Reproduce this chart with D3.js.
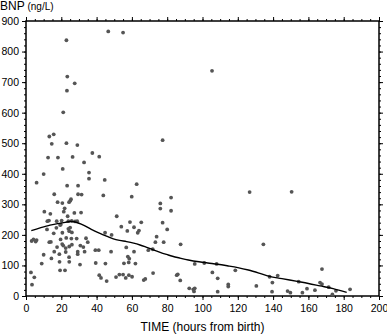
<!DOCTYPE html>
<meta charset="utf-8">
<style>
  body { margin: 0; background: #fff; }
  svg text { font-family: "Liberation Sans", Arial, sans-serif; fill: #000; }
  .axis path, .axis line { stroke: #000; }
</style>
<script src="https://d3js.org/d3.v7.min.js"></script>
<div id="chart"></div>
<script>
  // points: hours from birth, BNP ng/L
  var timeHours = [46.6,55,22.9,105.4,23.4,27.6,23.2,21.1,15.7,13.2,77.4,14.6,22.9,29.1,37.6,41.5,12.5,18.1,26.4,32.9,20.8,35.7,10,35.7,44.6,6,62.7,23.3,29.5,16,29.5,31.5,43.8,59.9,82.2,25.5,25.1,17.9,20.6,24.4,76.1,76.1,21.9,10.4,13.8,21.4,82.2,31.2,27.4,23.6,51.4,
    12.1,13,17.4,20.2,24,25.9,27.8,29,65.3,58.9,77.4,19.7,54,19.3,17.2,11.9,24,25,24.5,26,64,61.2,57.4,44.8,48.5,63.3,20.6,15.7,80,74,19.6,22.8,25.7,28.7,34,3.2,6,4.2,5.5,73.3,78,87.6,35,13.2,14.1,21.1,20.5,24.5,26,30.8,32.5,17.6,22.5,39.3,41.2,48.2,56.8,61.2,69.3,71.8,29.3,29.3,33.2,16,18.9,22.5,10,19,14.4,24.4,24.5,19.3,22.1,8.9,30.6,39.5,45,57.7,58.5,58.2,55.5,62,2.8,4.7,3.4,41.5,42.5,45.7,51,52.9,55,56.5,58.3,60.1,66.7,67.6,72,85.4,86,87.4,92.5,94.8,95.2,95.6,
    101,108,105.6,108.6,95.6,108.6,114.6,114.6,118.6,126.7,150.5,134.5,130.5,138,142.6,139.6,139.4,148.2,149.8,154.5,156.6,159.2,163.7,166.6,167.7,167.7,171.5,173.6,175.6,183.6];
  var bnpValues = [866,862,837,737,718,696,672,601,529,522,510,498,500,494,468,456,453,453,455,437,416,404,399,384,380,371,366,361,361,333,333,332,329,325,322,317,312,307,304,307,303,286,287,276,269,276,279,273,272,261,261,
    245,247,245,247,245,246,244,245,241,242,240,234,227,232,223,218,220,224,212,208,214,225,213,207,200,207,207,205,218,194,185,190,188,188,189,180,183,185,178,176,176,169,176,176,177,165,170,162,168,165,160,160,157,150,150,145,159,145,150,153,145,137,145,145,137,144,135,112,123,127,112,84,84,106,103,108,106,129,122,110,107,106,77,61,37,68,59,49,62,70,70,59,68,63,52,56,75,68,71,51,25,22,15,105,
    108,105,77,58,25,14,38,31,84,340,341,169,33,63,67,44,14,16,11,47,11,24,19,44,39,88,29,5,17,22];

  // smoothed trend line
  var trendHours = [3,8,13.6,18,22.1,25,27.2,30,32.5,37,41.9,46,49.5,53,57,61,64.6,68,72.1,76,79.7,83,87.3,92,98,103,108.5,114,120,126,132,138,145,154.5,160,166.6,174,181.7];
  var trendBnp = [214,223,232,237,241,244,243,238,232,218,205,195,187,182,178,173,167,160,151,143,136,130,124,118,112,108,104,99,93,85,75,64,57,47,41,33,24,12];

  var xTicks = [0,20,40,60,80,100,120,140,160,180,200];
  var yTicks = [0,100,200,300,400,500,600,700,800,900];

  var width = 387, height = 336;
  var plotL = 26, plotR = 379, plotT = 21, plotB = 296;

  var svg = d3.select("#chart").append("svg")
      .attr("width", width)
      .attr("height", height);

  var x = d3.scaleLinear().domain([0, 200]).range([plotL, plotR]);
  var y = d3.scaleLinear().domain([0, 900]).range([plotB, plotT]);

  var minorX = d3.range(0, 201, 5);
  var minorY = d3.range(0, 901, 20);

  function styleAxis(g) {
    g.attr("class", "axis");
    g.select(".domain").remove();
    g.selectAll("text").style("font-size", "10.5px");
  }

  // minor ticks on all four sides
  svg.append("g").attr("transform", "translate(0," + plotB + ")")
    .call(d3.axisBottom(x).tickValues(minorX).tickSize(2).tickFormat("")).call(styleAxis);
  svg.append("g").attr("transform", "translate(0," + plotT + ")")
    .call(d3.axisTop(x).tickValues(minorX).tickSize(2).tickFormat("")).call(styleAxis);
  svg.append("g").attr("transform", "translate(" + plotL + ",0)")
    .call(d3.axisLeft(y).tickValues(minorY).tickSize(2).tickFormat("")).call(styleAxis);
  svg.append("g").attr("transform", "translate(" + plotR + ",0)")
    .call(d3.axisRight(y).tickValues(minorY).tickSize(2).tickFormat("")).call(styleAxis);

  // major ticks
  svg.append("g").attr("transform", "translate(0," + plotB + ")")
    .call(d3.axisBottom(x).tickValues(xTicks).tickSize(4).tickPadding(5)).call(styleAxis);
  svg.append("g").attr("transform", "translate(0," + plotT + ")")
    .call(d3.axisTop(x).tickValues(xTicks).tickSize(4).tickFormat("")).call(styleAxis);
  svg.append("g").attr("transform", "translate(" + plotL + ",0)")
    .call(d3.axisLeft(y).tickValues(yTicks).tickSize(4).tickPadding(3)).call(styleAxis);
  svg.append("g").attr("transform", "translate(" + plotR + ",0)")
    .call(d3.axisRight(y).tickValues(yTicks).tickSize(4).tickFormat("")).call(styleAxis);

  // frame
  svg.append("rect")
    .attr("x", plotL).attr("y", plotT)
    .attr("width", plotR - plotL).attr("height", plotB - plotT)
    .attr("fill", "none").attr("stroke", "#000").attr("stroke-width", 1.5);

  // points
  svg.append("g").selectAll("circle")
    .data(timeHours)
    .enter().append("circle")
      .attr("cx", function(d) { return x(d); })
      .attr("cy", function(d, i) { return y(bnpValues[i]); })
      .attr("r", 1.9)
      .attr("fill", "#555");

  // trend
  var line = d3.line()
      .x(function(d) { return x(d); })
      .y(function(d, i) { return y(trendBnp[i]); })
      .curve(d3.curveCatmullRom);
  svg.append("path")
    .datum(trendHours)
    .attr("d", line)
    .attr("fill", "none")
    .attr("stroke", "#000")
    .attr("stroke-width", 1.4);

  // labels
  var yLab = svg.append("text").attr("x", 0).attr("y", 10);
  yLab.append("tspan").text("BNP").style("font-size", "12px");
  yLab.append("tspan").text(" (ng/L)").style("font-size", "10px");

  svg.append("text")
    .attr("x", (plotL + plotR) / 2).attr("y", 331)
    .attr("text-anchor", "middle")
    .style("font-size", "12px")
    .text("TIME (hours from birth)");
</script>
